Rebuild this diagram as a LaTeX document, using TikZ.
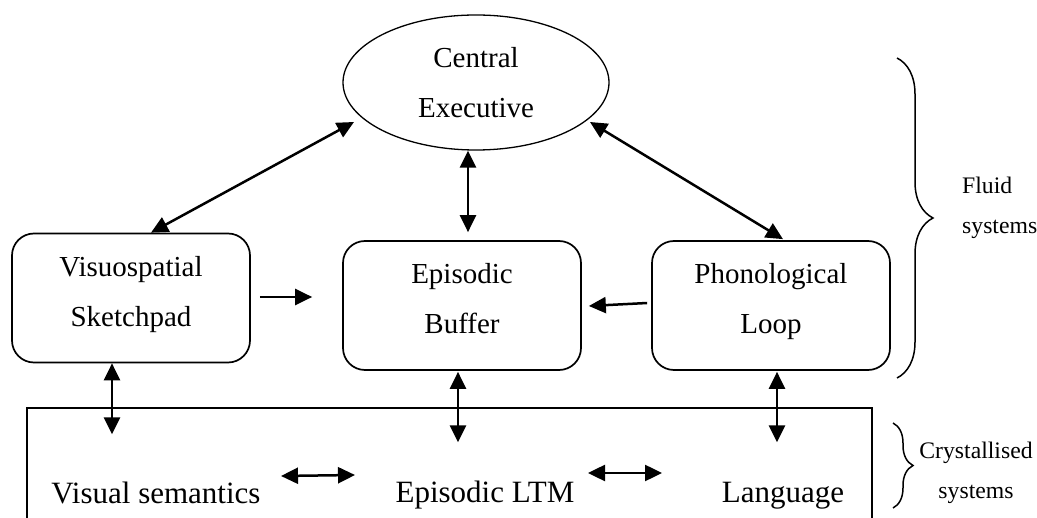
\documentclass[tikz,border=0pt]{standalone}
\usepackage{fontspec}
\setmainfont{Liberation Serif}
\usetikzlibrary{arrows.meta,shapes.geometric,calc,decorations.pathreplacing}
\begin{document}
\begin{tikzpicture}[x=1pt,y=-1pt,
  box/.style={draw, line width=1.7pt, rounded corners=22pt, minimum width=238pt, minimum height=129pt, inner sep=0pt},
  boxtext/.style={font=\fontsize{29}{50}\selectfont, align=center, inner sep=0pt},
  bigtext/.style={font=\fontsize{31}{40}\selectfont, inner sep=0pt, anchor=base},
  sidetext/.style={font=\fontsize{23.7}{40}\selectfont, inner sep=0pt},
  dbl/.style={{Triangle[length=17pt,width=16pt]}-{Triangle[length=17pt,width=16pt]}, line width=2.5pt},
  one/.style={-{Triangle[length=17pt,width=16pt]}, line width=2.5pt},
  brc/.style={decorate, line width=1.5pt}]
\useasboundingbox (0,0) rectangle (1037,518);

% central executive
\node[draw, ellipse, line width=1.3pt, minimum width=266pt, minimum height=135pt, inner sep=0pt,
      font=\fontsize{29}{50}\selectfont, align=center] (ce) at (476,82.5) {Central\\Executive};

% slave systems
\node[box] (vs) at (131,298) {};
\node[box] (eb) at (462,305.5) {};
\node[box] (pl) at (771,305.5) {};
\node[boxtext] (vsT) at (131,294.3) {Visuospatial\\Sketchpad};
\node[boxtext] (ebT) at (462,298.1) {Episodic\\Buffer};
\node[boxtext] (plT) at (771,301.3) {Phonological\\Loop};

% long-term memory container
\node[draw, line width=1.3pt, minimum width=845pt, minimum height=140pt, inner sep=0pt] (mem) at (449.5,478) {};
\node[bigtext] (vsem) at (156,504) {Visual semantics};
\node[bigtext] (eltm) at (485,503) {Episodic LTM};
\node[bigtext] (lang) at (783,503) {Language};

% connectors
\draw[dbl] ($(ce.center)+(-122,39.5)$) -- ($(vs.north)+(20,0)$);
\draw[dbl] ($(ce.south)+(-8,0)$) -- ($(eb.north)+(6,-8)$);
\draw[dbl] ($(ce.center)+(114,39.5)$) -- ($(pl.north)+(12,-1)$);
\draw[one] ($(vs.east)+(9,-1)$) -- ($(eb.west)+(-30,-8.5)$);
\draw[one] ($(pl.west)+(-4,-2.5)$) -- ($(eb.east)+(7,0.5)$);
\draw[dbl] ($(vs.south)+(-19,0)$) -- ($(vs.south |- mem.north)+(-19,27)$);
\draw[dbl] ($(eb.south)+(-4,1)$) -- ($(eb.south |- mem.north)+(-4,35)$);
\draw[dbl] ($(pl.south)+(6,1)$) -- ($(pl.south |- mem.north)+(6,35)$);
\draw[dbl] ($(vsem.base)+(125,-28)$) -- ($(eltm.base)+(-130,-28)$);
\draw[dbl] ($(eltm.base)+(103,-30)$) -- ($(lang.base)+(-121,-30)$);

% braces
\draw[brc, decoration={brace, amplitude=36pt}] (897,58) -- (897,378);
\draw[brc, decoration={brace, amplitude=20pt}] (893,423) -- (893,508);
\node[sidetext, anchor=west, align=left] (fluid) at (962,207.5) {Fluid\\systems};
\node[sidetext, align=center] (cryst) at (976,472.5) {Crystallised\\systems};
\end{tikzpicture}
\end{document}
